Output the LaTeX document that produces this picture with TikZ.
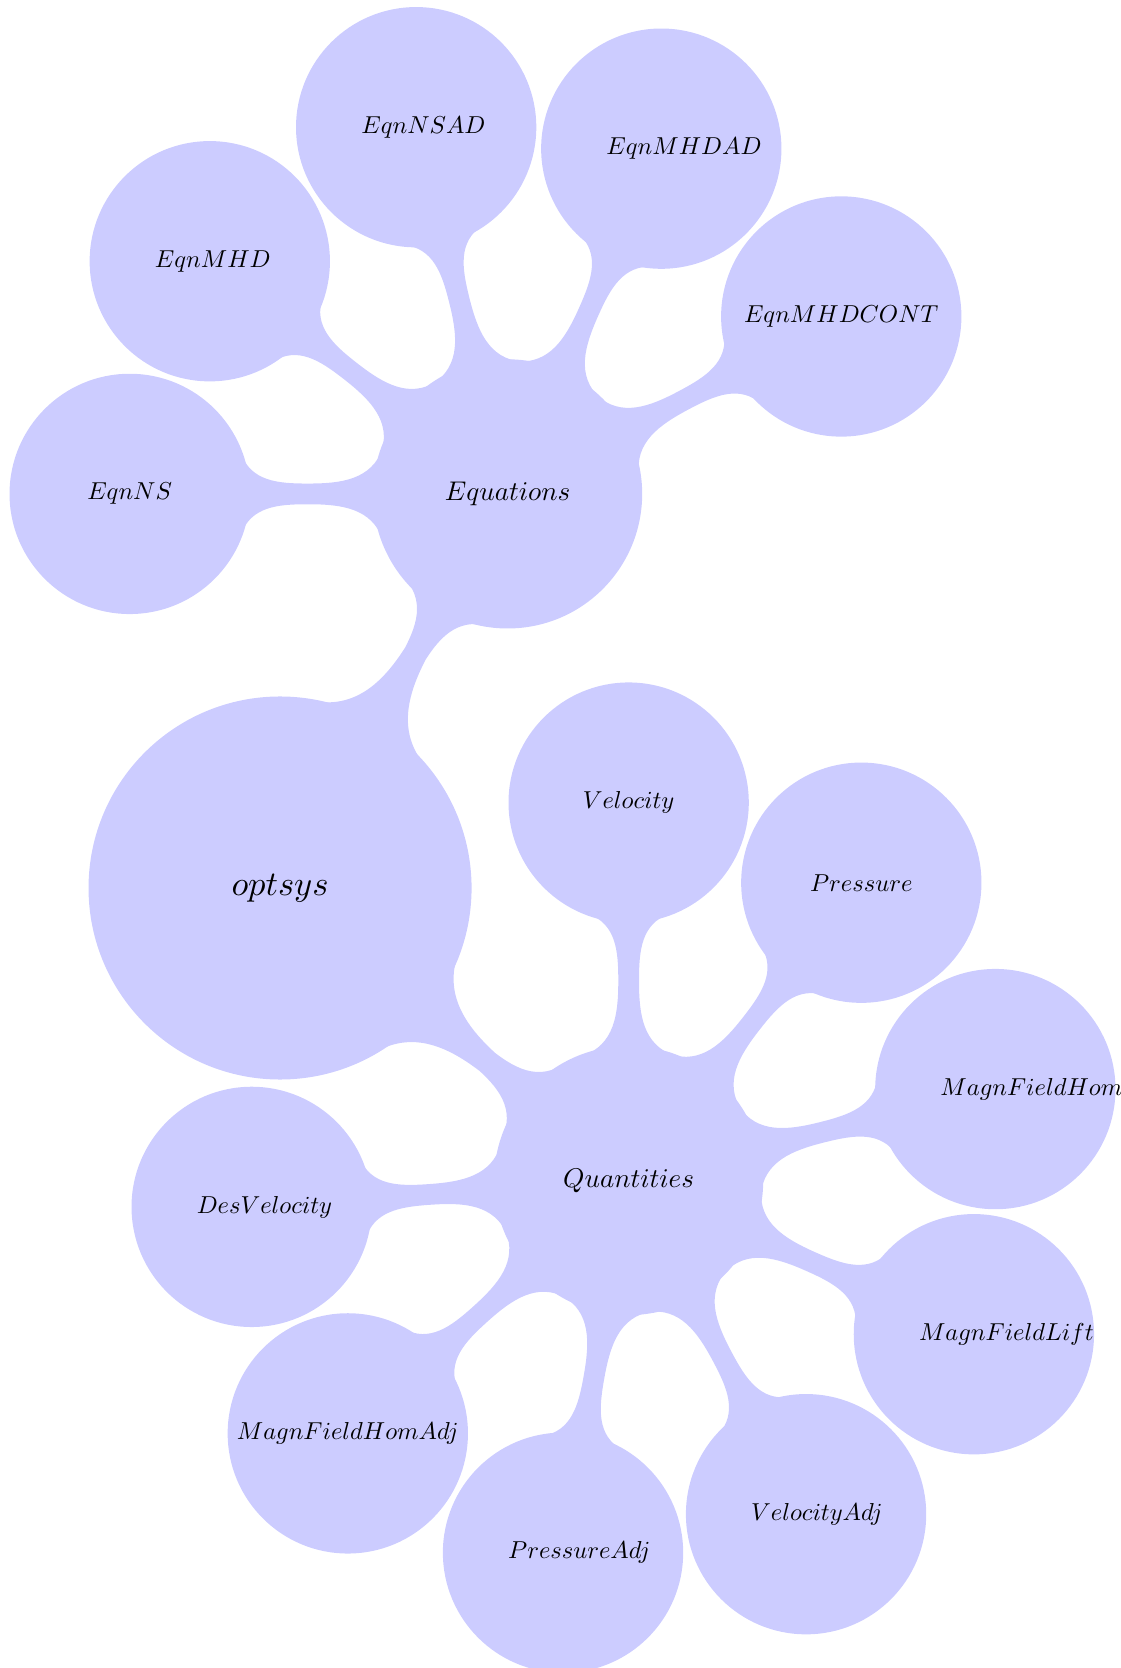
\documentclass[tikz,border=0pt]{standalone}
\usetikzlibrary{mindmap}
% math italic always from the 10pt design, scaled to any size
\DeclareFontShape{OML}{cmm}{m}{it}{<->cmmi10}{}
\newcommand{\rootfont}{\fontsize{11.9}{14}\selectfont}
\newcommand{\branchfont}{\fontsize{9.33}{11}\selectfont}
\newcommand{\leaffont}{\fontsize{8.45}{10}\selectfont}
\begin{document}
\begin{tikzpicture}[
  mindmap, concept color=blue!20, text=black,
  every concept/.append style={align=center},
  rootbubble/.style={minimum size=4.6cm, text width=3.5cm, font=\rootfont},
  level 1 concept/.append style={minimum size=3.22cm, text width=2.5cm, font=\branchfont},
  level 2 concept/.append style={minimum size=2.87cm, text width=1.33cm, font=\leaffont},
  wide label/.style={text width=2.7cm},
  level 1/.append style={level distance=5.515cm},
  level 2/.append style={level distance=4.58cm},
]
\useasboundingbox (-3.394,-9.453) rectangle (10.18,10.762);
\path node[concept, rootbubble] (root) {$optsys$}
  child[grow=60] { node[concept] (eq) {$Equations$}
    child[grow=180] { node[concept] (eqns)     {$EqnNS$} }
    child[grow=142] { node[concept] (eqmhd)    {$EqnMHD$} }
    child[grow=104] { node[concept] (eqnsad)   {$EqnNSAD$} }
    child[grow=66]  { node[concept] (eqmhdad)  {$EqnMHDAD$} }
    child[grow=28]  { node[concept, wide label] (eqmhdcon) {$EqnMHDCONT$} }
  }
  child[grow=-40] { node[concept] (qu) {$Quantities$}
    child[grow=90]   { node[concept] (vel)     {$Velocity$} }
    child[grow=52]   { node[concept] (pres)    {$Pressure$} }
    child[grow=14]   { node[concept] (mfh)     {$MagnFieldHom$} }
    child[grow=-24]  { node[concept] (mfl)     {$MagnFieldLift$} }
    child[grow=-62]  { node[concept] (veladj)  {$VelocityAdj$} }
    child[grow=-100] { node[concept] (presadj) {$PressureAdj$} }
    child[grow=-138] { node[concept, wide label] (mfhadj) {$MagnFieldHomAdj$} }
    child[grow=-176] { node[concept] (desvel)  {$DesVelocity$} }
  };
\end{tikzpicture}
\end{document}
